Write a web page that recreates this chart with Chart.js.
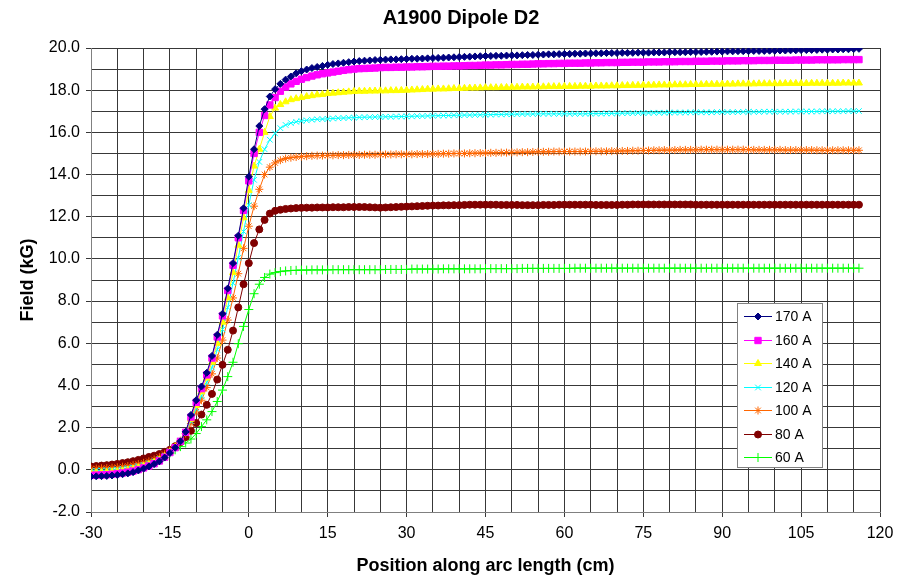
<!DOCTYPE html>
<html>
<head>
<meta charset="utf-8">
<title>A1900 Dipole D2</title>
<script src="https://cdn.jsdelivr.net/npm/chart.js@4.4.1/dist/chart.umd.min.js"></script>
<style>
  html, body { margin: 0; padding: 0; background: #fff; }
  #wrap { width: 903px; height: 579px; }
</style>
</head>
<body>
<div id="wrap"><canvas id="fieldChart" width="903" height="579"></canvas></div>
<script>
// Position along arc length (cm), one reading per cm
const positions = [
  -30,-29,-28,-27,-26,-25,-24,-23,-22,-21,-20,-19,-18,-17,-16,-15,
  -14,-13,-12,-11,-10,-9,-8,-7,-6,-5,-4,-3,-2,-1,0,1,2,3,4,5,6,7,8,9,10,
  11,12,13,14,15,16,17,18,19,20,
  21,22,23,24,25,26,27,28,29,30,31,32,33,34,35,36,37,38,39,40,
  41,42,43,44,45,46,47,48,49,50,51,52,53,54,55,56,57,58,59,60,
  61,62,63,64,65,66,67,68,69,70,71,72,73,74,75,76,77,78,79,80,
  81,82,83,84,85,86,87,88,89,90,91,92,93,94,95,96,97,98,99,100,
  101,102,103,104,105,106,107,108,109,110,111,112,113,114,115,116
];

// Field (kG) per excitation current
const field170 = [
  -0.32,-0.31,-0.30,-0.29,-0.27,-0.24,-0.21,-0.17,-0.11,-0.03,0.06,0.16,0.27,0.40,0.58,0.80,
  1.05,1.35,1.80,2.60,3.30,3.95,4.60,5.40,6.40,7.40,8.60,9.80,11.10,12.40,13.90,15.20,16.30,17.10,17.70,18.05,18.30,18.50,18.65,18.80,18.90,
  18.98,19.05,19.10,19.15,19.20,19.24,19.27,19.30,19.33,19.36,
  19.38,19.40,19.41,19.43,19.44,19.45,19.46,19.46,19.47,19.48,
  19.49,19.49,19.50,19.51,19.52,19.53,19.54,19.55,19.56,19.57,
  19.58,19.59,19.60,19.61,19.62,19.62,19.63,19.63,19.64,19.65,
  19.65,19.66,19.67,19.67,19.68,19.69,19.70,19.70,19.71,19.72,
  19.72,19.73,19.73,19.74,19.74,19.75,19.75,19.76,19.76,19.76,
  19.77,19.77,19.77,19.78,19.78,19.78,19.79,19.79,19.79,19.80,
  19.80,19.80,19.80,19.81,19.81,19.81,19.82,19.82,19.83,19.83,
  19.84,19.84,19.85,19.85,19.85,19.86,19.86,19.86,19.87,19.87,
  19.88,19.88,19.89,19.89,19.90,19.90,19.91,19.91,19.92,19.92,
  19.93,19.93,19.94,19.94,19.95,19.96
];
const field160 = [
  -0.26,-0.25,-0.24,-0.23,-0.21,-0.18,-0.15,-0.11,-0.06,0.01,0.09,0.18,0.29,0.42,0.60,0.82,
  1.05,1.35,1.78,2.50,3.20,3.85,4.50,5.30,6.30,7.30,8.50,9.70,11.00,12.30,13.70,15.00,16.00,16.80,17.30,17.65,17.95,18.15,18.30,18.42,18.52,
  18.60,18.67,18.73,18.78,18.82,18.86,18.90,18.94,18.97,19.00,
  19.02,19.03,19.04,19.05,19.07,19.08,19.08,19.09,19.09,19.10,
  19.10,19.11,19.11,19.12,19.13,19.13,19.14,19.14,19.15,19.15,
  19.16,19.17,19.17,19.18,19.19,19.19,19.20,19.20,19.21,19.22,
  19.22,19.23,19.23,19.24,19.25,19.25,19.26,19.26,19.27,19.27,
  19.28,19.28,19.28,19.29,19.29,19.30,19.30,19.31,19.31,19.31,
  19.32,19.32,19.33,19.33,19.33,19.34,19.34,19.34,19.35,19.35,
  19.35,19.36,19.36,19.36,19.37,19.37,19.37,19.38,19.38,19.38,
  19.39,19.39,19.39,19.40,19.40,19.40,19.41,19.41,19.41,19.42,
  19.42,19.42,19.42,19.43,19.43,19.43,19.43,19.44,19.44,19.44,
  19.44,19.44,19.45,19.45,19.45,19.45
];
const field140 = [
  -0.15,-0.14,-0.13,-0.12,-0.10,-0.08,-0.05,-0.01,0.04,0.10,0.17,0.25,0.35,0.47,0.63,0.85,
  1.07,1.35,1.75,2.40,3.05,3.70,4.35,5.10,6.00,7.00,8.15,9.35,10.65,11.95,13.25,14.40,15.20,16.00,16.75,17.15,17.32,17.45,17.55,17.60,17.65,
  17.70,17.74,17.78,17.80,17.84,17.86,17.88,17.90,17.92,17.94,
  17.95,17.95,17.96,17.96,17.97,17.97,17.98,17.98,17.99,18.00,
  18.01,18.02,18.03,18.05,18.05,18.06,18.06,18.07,18.08,18.08,
  18.09,18.10,18.10,18.11,18.12,18.12,18.12,18.13,18.13,18.14,
  18.14,18.15,18.15,18.15,18.16,18.16,18.17,18.17,18.17,18.18,
  18.18,18.18,18.19,18.19,18.19,18.20,18.20,18.20,18.21,18.21,
  18.22,18.22,18.23,18.23,18.24,18.24,18.24,18.25,18.25,18.25,
  18.26,18.26,18.26,18.27,18.27,18.27,18.28,18.28,18.28,18.29,
  18.29,18.29,18.30,18.30,18.30,18.30,18.31,18.31,18.31,18.31,
  18.31,18.32,18.32,18.32,18.32,18.32,18.33,18.33,18.33,18.33,
  18.33,18.33,18.34,18.34,18.34,18.34
];
const field120 = [
  -0.05,-0.04,-0.03,-0.02,0.00,0.02,0.05,0.08,0.12,0.17,0.23,0.31,0.40,0.52,0.67,0.88,
  1.10,1.38,1.75,2.30,2.90,3.50,4.15,4.85,5.70,6.65,7.70,8.85,10.05,11.30,12.55,13.75,14.60,15.20,15.65,15.95,16.20,16.35,16.44,16.50,16.54,
  16.57,16.60,16.62,16.63,16.64,16.66,16.67,16.68,16.69,16.70,
  16.71,16.72,16.72,16.73,16.73,16.74,16.74,16.75,16.75,16.76,
  16.76,16.77,16.77,16.78,16.79,16.79,16.80,16.80,16.81,16.81,
  16.82,16.82,16.83,16.83,16.84,16.84,16.85,16.85,16.86,16.86,
  16.86,16.87,16.87,16.87,16.88,16.88,16.88,16.88,16.88,16.88,
  16.88,16.88,16.88,16.88,16.89,16.89,16.89,16.90,16.90,16.90,
  16.91,16.91,16.91,16.92,16.92,16.92,16.93,16.93,16.93,16.94,
  16.94,16.94,16.94,16.95,16.95,16.95,16.95,16.95,16.96,16.96,
  16.96,16.96,16.96,16.97,16.97,16.97,16.97,16.98,16.98,16.98,
  16.98,16.98,16.98,16.99,16.99,16.99,16.99,16.99,17.00,17.00,
  17.00,17.00,17.00,17.01,17.01,17.01
];
const field100 = [
  0.05,0.06,0.07,0.08,0.10,0.12,0.15,0.18,0.22,0.27,0.33,0.40,0.49,0.60,0.74,0.92,
  1.12,1.38,1.72,2.20,2.75,3.30,3.90,4.55,5.30,6.15,7.10,8.15,9.30,10.50,11.55,12.50,13.30,14.00,14.35,14.55,14.68,14.76,14.80,14.83,14.85,
  14.87,14.89,14.90,14.90,14.91,14.91,14.92,14.92,14.93,14.93,
  14.93,14.94,14.94,14.94,14.95,14.95,14.95,14.96,14.96,14.96,
  14.96,14.97,14.97,14.97,14.98,14.98,14.99,14.99,15.00,15.00,
  15.00,15.01,15.01,15.02,15.02,15.03,15.03,15.04,15.04,15.05,
  15.05,15.06,15.06,15.07,15.08,15.08,15.08,15.09,15.09,15.09,
  15.09,15.09,15.09,15.09,15.10,15.10,15.10,15.10,15.11,15.11,
  15.12,15.12,15.13,15.13,15.14,15.14,15.15,15.15,15.16,15.16,
  15.16,15.17,15.17,15.17,15.17,15.18,15.18,15.18,15.18,15.18,
  15.18,15.18,15.18,15.18,15.18,15.17,15.17,15.17,15.17,15.17,
  15.17,15.16,15.16,15.16,15.16,15.16,15.16,15.15,15.15,15.15,
  15.15,15.15,15.15,15.15,15.15,15.15
];
const field80 = [
  0.16,0.18,0.20,0.22,0.25,0.28,0.32,0.36,0.41,0.47,0.54,0.61,0.67,0.75,0.85,0.95,
  1.12,1.32,1.55,1.85,2.22,2.62,3.08,3.60,4.28,4.98,5.69,6.60,7.70,8.80,9.80,10.75,11.40,11.85,12.15,12.28,12.33,12.37,12.39,12.41,12.42,
  12.43,12.43,12.44,12.44,12.44,12.45,12.45,12.45,12.46,12.46,
  12.46,12.46,12.45,12.44,12.43,12.44,12.45,12.46,12.47,12.48,
  12.49,12.50,12.51,12.52,12.53,12.53,12.54,12.54,12.55,12.55,
  12.56,12.57,12.57,12.57,12.57,12.57,12.57,12.56,12.56,12.56,
  12.56,12.55,12.55,12.55,12.55,12.56,12.56,12.56,12.57,12.57,
  12.57,12.57,12.57,12.57,12.57,12.56,12.56,12.56,12.56,12.56,
  12.57,12.57,12.58,12.58,12.58,12.58,12.58,12.58,12.58,12.58,
  12.58,12.58,12.58,12.58,12.57,12.57,12.57,12.57,12.57,12.57,
  12.57,12.57,12.57,12.57,12.57,12.57,12.57,12.57,12.57,12.57,
  12.57,12.57,12.57,12.57,12.57,12.57,12.57,12.57,12.57,12.57,
  12.57,12.57,12.57,12.57,12.57,12.57
];
const field60 = [
  0.12,0.14,0.16,0.18,0.20,0.23,0.27,0.31,0.35,0.41,0.47,0.52,0.58,0.65,0.72,0.80,
  0.95,1.10,1.27,1.46,1.72,2.05,2.37,2.76,3.24,3.78,4.42,5.10,5.98,6.80,7.60,8.35,8.80,9.12,9.28,9.35,9.40,9.43,9.45,9.46,9.47,
  9.47,9.48,9.48,9.48,9.48,9.49,9.49,9.49,9.49,9.49,
  9.49,9.49,9.49,9.49,9.49,9.50,9.50,9.50,9.50,9.50,
  9.52,9.52,9.52,9.52,9.52,9.52,9.53,9.53,9.53,9.53,
  9.53,9.53,9.53,9.53,9.54,9.54,9.54,9.54,9.54,9.54,
  9.54,9.55,9.55,9.55,9.55,9.55,9.55,9.55,9.55,9.55,
  9.55,9.56,9.56,9.56,9.56,9.56,9.56,9.56,9.56,9.56,
  9.56,9.56,9.56,9.56,9.56,9.56,9.56,9.56,9.56,9.56,
  9.56,9.56,9.56,9.56,9.56,9.56,9.56,9.56,9.56,9.56,
  9.56,9.56,9.56,9.56,9.56,9.56,9.56,9.56,9.56,9.56,
  9.56,9.56,9.56,9.56,9.56,9.56,9.56,9.56,9.56,9.56,
  9.56,9.56,9.56,9.56,9.56,9.56
];

const seriesLabels = ['170 A', '160 A', '140 A', '120 A', '100 A', '80 A', '60 A'];
const seriesValues = [field170, field160, field140, field120, field100, field80, field60];
const chartTitle = 'A1900 Dipole D2';

// Marker look per series (Excel-like)
const seriesStyle = [
  { color: '#000080', point: 'rectRot', radius: 3.5 },
  { color: '#FF00FF', point: 'rect', radius: 4.5 },
  { color: '#FFFF00', point: 'triangle', radius: 4 },
  { color: '#00FFFF', point: 'crossRot', radius: 4 },
  { color: '#FF6600', point: 'star', radius: 4 },
  { color: '#800000', point: 'circle', radius: 3.5 },
  { color: '#00FF00', point: 'cross', radius: 4.5 }
];

const FONT = '"Liberation Sans", Arial, sans-serif';
const GRID = '#383838';

const datasets = seriesLabels.map((label, i) => {
  const s = seriesStyle[i];
  return {
    label: label,
    data: positions.map((x, k) => ({ x: x, y: seriesValues[i][k] })),
    borderColor: s.color,
    backgroundColor: s.color,
    borderWidth: 1,
    pointStyle: s.point,
    pointRadius: s.radius,
    pointBackgroundColor: s.color,
    pointBorderColor: s.color,
    pointBorderWidth: 1,
    tension: 0,
    fill: false
  };
});

// Title drawn a bit right of canvas centre, like the Excel original
const titleText = {
  id: 'titleText',
  afterDraw(chart) {
    const ctx = chart.ctx;
    ctx.save();
    ctx.font = 'bold 20px ' + FONT;
    ctx.fillStyle = '#000';
    ctx.textAlign = 'center';
    ctx.textBaseline = 'middle';
    ctx.fillText(chartTitle, 461, 18);
    ctx.restore();
  }
};

// Boxed legend sitting inside the plot, lower right
const boxLegend = {
  id: 'boxLegend',
  afterDraw(chart) {
    const ctx = chart.ctx;
    const left = 737, top = 303, w = 85, h = 164;
    ctx.save();
    ctx.fillStyle = '#ffffff';
    ctx.fillRect(left, top, w, h);
    ctx.strokeStyle = '#808080';
    ctx.lineWidth = 1;
    ctx.strokeRect(left + 0.5, top + 0.5, w, h);
    ctx.font = '14px ' + FONT;
    ctx.textBaseline = 'middle';
    chart.data.datasets.forEach((ds, i) => {
      const y = Math.round(top + 13 + i * 23.5) + 0.5;
      ctx.strokeStyle = ds.borderColor;
      ctx.lineWidth = 1;
      ctx.beginPath();
      ctx.moveTo(left + 7, y);
      ctx.lineTo(left + 35, y);
      ctx.stroke();
      ctx.fillStyle = ds.pointBackgroundColor;
      ctx.strokeStyle = ds.pointBorderColor;
      ctx.lineWidth = ds.pointBorderWidth;
      Chart.helpers.drawPoint(ctx, {
        pointStyle: ds.pointStyle,
        radius: ds.pointRadius,
        rotation: 0,
        borderWidth: ds.pointBorderWidth
      }, left + 21, y);
      ctx.fillStyle = '#000';
      ctx.fillText(ds.label, left + 38, y + 0.5);
    });
    ctx.restore();
  }
};

new Chart(document.getElementById('fieldChart'), {
  type: 'line',
  data: { datasets: datasets },
  plugins: [titleText, boxLegend],
  options: {
    responsive: false,
    animation: false,
    layout: { padding: { left: 0, right: 23, top: 48, bottom: 0 } },
    plugins: {
      legend: { display: false },
      tooltip: { enabled: false },
      title: { display: false }
    },
    scales: {
      x: {
        type: 'linear',
        min: -30,
        max: 120,
        afterFit: (scale) => { scale.height = 67; },
        border: { display: true, color: '#808080' },
        grid: {
          color: GRID,
          lineWidth: 1,
          tickLength: 5,
          tickColor: (c) => (c.tick && c.tick.value % 15 === 0) ? GRID : 'rgba(0,0,0,0)'
        },
        ticks: {
          stepSize: 5,
          autoSkip: false,
          maxRotation: 0,
          padding: 7,
          color: '#000',
          font: { family: FONT, size: 16 },
          callback: (v) => (v % 15 === 0 ? String(v) : '')
        },
        title: {
          display: true,
          text: 'Position along arc length (cm)',
          color: '#000',
          font: { family: FONT, size: 18, weight: 'bold' },
          padding: { top: 0, bottom: 2 }
        }
      },
      y: {
        type: 'linear',
        min: -2,
        max: 20,
        afterFit: (scale) => { scale.width = 91; },
        border: { display: true, color: '#808080' },
        grid: {
          color: GRID,
          lineWidth: 1,
          tickLength: 5,
          tickColor: (c) => (c.tick && c.tick.value % 2 === 0) ? GRID : 'rgba(0,0,0,0)'
        },
        ticks: {
          stepSize: 1,
          autoSkip: false,
          padding: 6,
          color: '#000',
          font: { family: FONT, size: 16 },
          callback: (v) => (v % 2 === 0 ? v.toFixed(1) : '')
        },
        title: {
          display: true,
          text: 'Field (kG)',
          color: '#000',
          font: { family: FONT, size: 18, weight: 'bold' },
          padding: { top: 17, bottom: 0 }
        }
      }
    }
  }
});
</script>
</body>
</html>
